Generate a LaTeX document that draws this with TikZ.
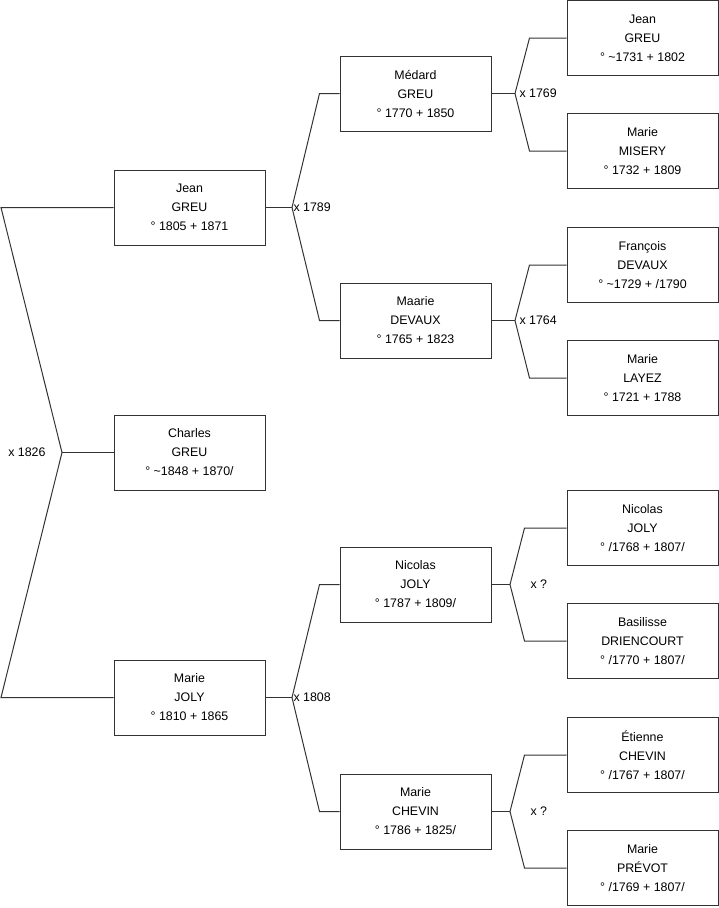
\documentclass[tikz,border=0pt]{standalone}
\usepackage{fontspec}
\setmainfont{Liberation Sans}
\usetikzlibrary{calc}
\def\personnode{\node[draw=black!80,line width=1pt,minimum width=151pt,minimum height=75pt,inner sep=0pt,align=center,font=\fontsize{12.4}{19}\selectfont]}
\def\weddingnode{\node[inner sep=1pt,font=\fontsize{12.4}{14}\selectfont]}

\begin{document}
\begin{tikzpicture}[x=1pt,y=-1pt,line width=1pt,draw=black!80]
\useasboundingbox (0,0) rectangle (719,908);
% generation 1
\personnode (jean) at (189.5,207.5) {Jean\\GREU\\° 1805 + 1871};
\personnode (charles) at (189.5,452.5) {Charles\\GREU\\° \textasciitilde1848 + 1870/};
\personnode (mariejoly) at (189.5,697.5) {Marie\\JOLY\\° 1810 + 1865};
% generation 2
\personnode (medard) at (415.5,93.5) {Médard\\GREU\\° 1770 + 1850};
\personnode (maarie) at (415.5,320.5) {Maarie\\DEVAUX\\° 1765 + 1823};
\personnode (nicolas) at (415.5,584.5) {Nicolas\\JOLY\\° 1787 + 1809/};
\personnode (mariechevin) at (415.5,811.5) {Marie\\CHEVIN\\° 1786 + 1825/};
% generation 3
\personnode (jeanold) at (642.5,38) {Jean\\GREU\\° \textasciitilde1731 + 1802};
\personnode (misery) at (642.5,151) {Marie\\MISERY\\° 1732 + 1809};
\personnode (francois) at (642.5,265) {François\\DEVAUX\\° \textasciitilde1729 + /1790};
\personnode (layez) at (642.5,378) {Marie\\LAYEZ\\° 1721 + 1788};
\personnode (nicolasold) at (642.5,528) {Nicolas\\JOLY\\° /1768 + 1807/};
\personnode (basilisse) at (642.5,641) {Basilisse\\DRIENCOURT\\° /1770 + 1807/};
\personnode (etienne) at (642.5,755) {Étienne\\CHEVIN\\° /1767 + 1807/};
\personnode (prevot) at (642.5,868) {Marie\\PRÉVOT\\° /1769 + 1807/};
% junctions
\coordinate (w1826) at (62,452.5);
\coordinate (topcorner) at (1,207.5);
\coordinate (botcorner) at (1,697.5);
\coordinate (w1789) at (292,207.5);
\coordinate (w1808) at (292,697.5);
\coordinate (w1769) at (515,93.5);
\coordinate (w1764) at (515,320.5);
\coordinate (wjoly) at (510,584.5);
\coordinate (wchevin) at (510,811.5);
% connectors
\draw (jean.west) -- (topcorner) -- (w1826) -- (botcorner) -- (mariejoly.west);
\draw (charles.west) -- (w1826);
\draw (jean.east) -- (w1789);
\draw (medard.west) -- ++(-20,0) -- (w1789) -- ($(maarie.west)+(-20,0)$) -- (maarie.west);
\draw (mariejoly.east) -- (w1808);
\draw (nicolas.west) -- ++(-20,0) -- (w1808) -- ($(mariechevin.west)+(-20,0)$) -- (mariechevin.west);
\draw (medard.east) -- (w1769);
\draw (jeanold.west) -- ++(-37,0) -- (w1769) -- ($(misery.west)+(-37,0)$) -- (misery.west);
\draw (maarie.east) -- (w1764);
\draw (francois.west) -- ++(-37,0) -- (w1764) -- ($(layez.west)+(-37,0)$) -- (layez.west);
\draw (nicolas.east) -- (wjoly);
\draw (nicolasold.west) -- ++(-42,0) -- (wjoly) -- ($(basilisse.west)+(-42,0)$) -- (basilisse.west);
\draw (mariechevin.east) -- (wchevin);
\draw (etienne.west) -- ++(-42,0) -- (wchevin) -- ($(prevot.west)+(-42,0)$) -- (prevot.west);
% marriage dates
\weddingnode[anchor=east] (m1826) at (47,452.5) {x 1826};
\weddingnode[anchor=west] (m1789) at (w1789) {x 1789};
\weddingnode[anchor=west] (m1808) at (w1808) {x 1808};
\weddingnode[anchor=west,xshift=3pt] (m1769) at (w1769) {x 1769};
\weddingnode[anchor=west,xshift=3pt] (m1764) at (w1764) {x 1764};
\weddingnode[anchor=west] (mjoly) at (529,584.5) {x ?};
\weddingnode[anchor=west] (mchevin) at (529,811.5) {x ?};
\end{tikzpicture}
\end{document}
